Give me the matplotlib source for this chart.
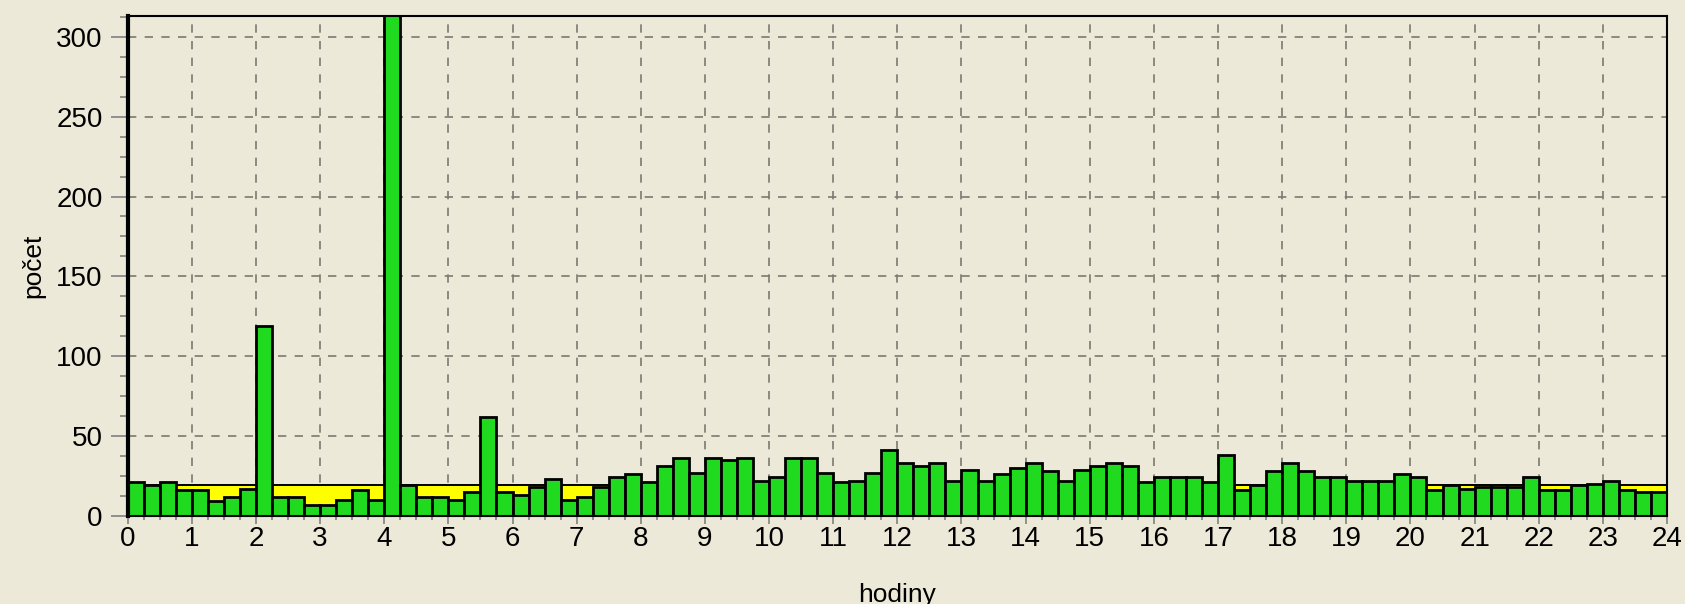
import numpy as np
import matplotlib.pyplot as plt
from matplotlib.ticker import MultipleLocator

W, H, DPI = 1685, 604, 100

# pocet za kazdych 15 minut (96 hodnot, 0:00 - 23:45)
pocet = [21, 19, 21, 16, 16, 9, 12, 17,
         119, 12, 12, 7, 7, 10, 16, 10,
         330, 19, 12, 12, 10, 15, 62, 15,
         13, 18, 23, 10, 12, 18, 24, 26,
         21, 31, 36, 27, 36, 35, 36, 22,
         24, 36, 36, 27, 21, 22, 27, 41,
         33, 31, 33, 22, 29, 22, 26, 30,
         33, 28, 22, 29, 31, 33, 31, 21,
         24, 24, 24, 21, 38, 16, 19, 28,
         33, 28, 24, 24, 22, 22, 22, 26,
         24, 16, 19, 17, 18, 18, 18, 24,
         16, 16, 19, 20, 22, 16, 15, 15]

# prumer po hodinach (zluta plocha)
prumer = [19, 19, 19, 19, 19, 19, 19, 19, 19, 19, 19, 19,
          19, 19, 19, 19, 19, 19, 19, 19, 19, 19, 19, 19]

x_ticks = list(range(0, 25))
y_ticks = [0, 50, 100, 150, 200, 250, 300]

plt.rcParams['font.family'] = ['Liberation Sans', 'DejaVu Sans']

bg = '#ece9d8'
fig = plt.figure(figsize=(W / DPI, H / DPI), dpi=DPI, facecolor=bg)
bottom_px, top_px = 515.8, 16.1
ax = fig.add_axes([127.7 / W, (H - bottom_px) / H, (1667 - 127.7) / W,
                   (bottom_px - top_px) / H])
ax.set_facecolor(bg)

hranice = np.arange(len(prumer) + 1)
ax.stairs(prumer, hranice, fill=True, color='#ffff00', zorder=2)
ax.stairs(prumer, hranice, color='black', linewidth=1.4, zorder=2.5)

ctvrthodiny = np.arange(len(pocet)) * 0.25
ax.bar(ctvrthodiny, pocet, width=0.25, align='edge', color='#1fda1f',
       edgecolor='black', linewidth=2.0, zorder=3)

ax.set_xlim(0, 24)
ax.set_ylim(0, 313)
ax.set_xticks(x_ticks)
ax.set_yticks(y_ticks)
ax.xaxis.set_minor_locator(MultipleLocator(0.25))
ax.yaxis.set_minor_locator(MultipleLocator(12.5))

ax.set_axisbelow(True)
ax.grid(True, which='major', linestyle=(0, (5, 5)), color='#7a7a72',
        linewidth=1.2)

ax.tick_params(axis='y', which='major', direction='out', length=12,
               width=1.2, color='#808080', labelsize=20, pad=6)
ax.tick_params(axis='y', which='minor', direction='out', length=6,
               width=1.2, color='#808080')
ax.tick_params(axis='x', which='major', direction='out', length=6,
               width=1.2, color='#808080', labelsize=20, pad=1.5)
ax.tick_params(axis='x', which='minor', direction='out', length=3,
               width=1.2, color='#808080')

ax.spines['left'].set_linewidth(3)
for s in ['top', 'right', 'bottom']:
    ax.spines[s].set_linewidth(1.5)
for s in ax.spines.values():
    s.set_color('black')
    s.set_zorder(5)

ax.set_xlabel('hodiny', fontsize=19, labelpad=22)
ax.set_ylabel('počet', fontsize=19, labelpad=8)

fig.savefig('out.png', dpi=DPI, facecolor=bg)
